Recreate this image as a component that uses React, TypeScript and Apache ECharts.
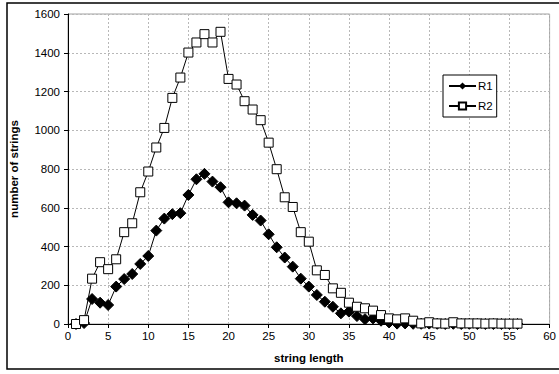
import React, { useEffect, useRef } from "react";
import * as echarts from "echarts";

const lengths = Array.from({ length: 56 }, (_, i) => i + 1);
const r1Values = [
  0, 5, 129, 110, 98, 193, 232, 258, 310, 351,
  482, 544, 567, 572, 666, 747, 775, 735, 706, 628,
  623, 611, 563, 534, 463, 396, 343, 296, 234, 193,
  150, 115, 89, 55, 64, 41, 25, 29, 17, 8,
  2, 3, 1, 1, 2, 1, 0, 1, 0, 1,
  0, 0, 0, 0, 0, 0,
];
const r2Values = [
  0, 20, 234, 319, 283, 334, 474, 520, 680, 787,
  911, 1012, 1167, 1272, 1401, 1453, 1496, 1453, 1508, 1265,
  1236, 1150, 1107, 1052, 936, 799, 654, 604, 474, 425,
  277, 253, 184, 161, 110, 89, 81, 69, 46, 29,
  24, 29, 17, 3, 9, 3, 2, 9, 3, 3,
  3, 2, 3, 2, 2, 2,
];
const seriesNames = ["R1", "R2"];
const xTitle = "string length";
const yTitle = "number of strings";

export default function App() {
  const ref = useRef<HTMLDivElement>(null);
  useEffect(() => {
    const chart = echarts.init(ref.current!, null, { renderer: "svg" });
    const font = "'Liberation Sans', Arial, sans-serif";
    const fmt = (v: number) => String(v);
    chart.setOption({
      animation: false,
      backgroundColor: "#fff",
      textStyle: { fontFamily: font },
      graphic: [
        {
          type: "rect",
          shape: { x: 7, y: 3, width: 560, height: 366 },
          style: { fill: "none", stroke: "#000", lineWidth: 1.5 },
          z: 100,
        },
      ],
      grid: {
        left: 68,
        top: 14,
        right: 5,
        bottom: 50,
        show: true,
        borderColor: "#a0a0a0",
        borderWidth: 1,
      },
      legend: {
        left: 443,
        top: 75,
        orient: "vertical",
        borderColor: "#000",
        borderWidth: 1,
        backgroundColor: "#fff",
        padding: [5, 4, 5, 5],
        itemGap: 8,
        itemWidth: 27,
        itemHeight: 9,
        textStyle: { fontSize: 11.5, fontFamily: font, color: "#000", padding: [0, 0, 0, -3] },
        data: seriesNames,
      },
      xAxis: {
        type: "value",
        min: 0,
        max: 60,
        interval: 5,
        name: xTitle,
        nameLocation: "middle",
        nameGap: 28,
        nameTextStyle: { fontWeight: "bold", fontSize: 11.5, color: "#000", fontFamily: font },
        axisLine: { show: true, onZero: false, lineStyle: { color: "#000", width: 1 } },
        axisTick: { show: true, length: 4, lineStyle: { color: "#000" } },
        axisLabel: { fontSize: 11.5, color: "#000", margin: 6, fontFamily: font, formatter: fmt },
        splitLine: { show: true, lineStyle: { color: "#b8b8b8", type: [2, 2], width: 1 } },
      },
      yAxis: {
        type: "value",
        min: 0,
        max: 1600,
        interval: 200,
        name: yTitle,
        nameLocation: "middle",
        nameGap: 48,
        nameTextStyle: { fontWeight: "bold", fontSize: 11.5, color: "#000", fontFamily: font },
        axisLine: { show: true, lineStyle: { color: "#000", width: 1 } },
        axisTick: { show: true, length: 4, lineStyle: { color: "#000" } },
        axisLabel: { fontSize: 11.5, color: "#000", margin: 8, fontFamily: font, formatter: fmt },
        splitLine: { show: true, lineStyle: { color: "#b8b8b8", type: [2, 2], width: 1 } },
      },
      series: [
        {
          name: seriesNames[0],
          type: "line",
          data: lengths.map((x, i) => [x, r1Values[i]]),
          symbol: "diamond",
          symbolSize: 11,
          itemStyle: { color: "#000", borderColor: "#000" },
          lineStyle: { color: "#000", width: 1 },
          z: 3,
        },
        {
          name: seriesNames[1],
          type: "line",
          data: lengths.map((x, i) => [x, r2Values[i]]),
          symbol: "rect",
          symbolSize: 9,
          itemStyle: { color: "#fff", borderColor: "#000", borderWidth: 1 },
          lineStyle: { color: "#000", width: 1 },
          z: 4,
        },
      ],
    });
    return () => chart.dispose();
  }, []);
  return (
    <div
      ref={ref}
      style={{ position: "fixed", left: 0, top: 0, width: 559, height: 374, background: "#fff" }}
    />
  );
}
